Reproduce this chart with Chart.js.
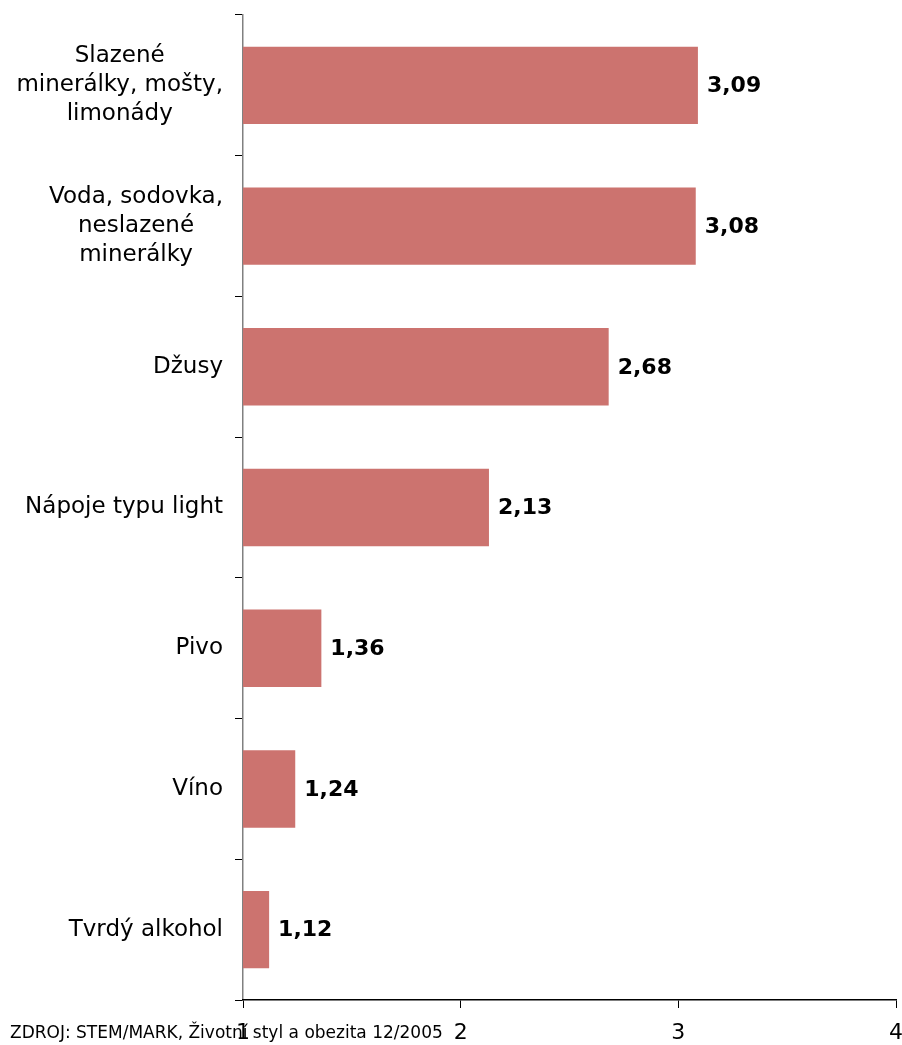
<!DOCTYPE html>
<html>
<head>
<meta charset="utf-8">
<script src="https://cdn.jsdelivr.net/npm/chart.js@4/dist/chart.umd.min.js"></script>
<style>
  html, body { margin: 0; padding: 0; background: #fff; }
  #wrap { position: relative; width: 902px; height: 1045px; overflow: hidden; }
  #source {
    position: absolute; left: 10px; top: 1022px;
    font: 17px "DejaVu Sans", Verdana, sans-serif; color: #000;
    white-space: nowrap;
  }
</style>
</head>
<body>
<div id="wrap">
  <canvas id="chart" width="902" height="1045"></canvas>
  <div id="source">ZDROJ: STEM/MARK, Životní styl a obezita 12/2005</div>
</div>
<script>
// drinks, top to bottom
const categories = [
  ["Slazené", "minerálky, mošty,", "limonády"],
  ["Voda, sodovka,", "neslazené", "minerálky"],
  ["Džusy"],
  ["Nápoje typu light"],
  ["Pivo"],
  ["Víno"],
  ["Tvrdý alkohol"]
];
const values = [3.09, 3.08, 2.68, 2.13, 1.36, 1.24, 1.12];
const xTicks = [1, 2, 3, 4];

const barColor = "#cc736f";
const fontFamily = '"DejaVu Sans", Verdana, sans-serif';

// category names: lines centred on each other, block right-aligned next to the axis
const categoryLabels = {
  id: "categoryLabels",
  afterDraw(chart) {
    const ctx = chart.ctx;
    const y = chart.scales.y;
    ctx.save();
    ctx.font = "23px " + fontFamily;
    ctx.fillStyle = "#000";
    ctx.textAlign = "center";
    ctx.textBaseline = "middle";
    const lineH = 29;
    categories.forEach((lines, i) => {
      const cy = y.getPixelForValue(i);
      const w = Math.max(...lines.map(l => ctx.measureText(l).width));
      const cx = y.right - 20 - w / 2;
      const top = cy - (lines.length - 1) * lineH / 2;
      lines.forEach((l, j) => ctx.fillText(l, cx, top + j * lineH));
    });
    ctx.restore();
  }
};

// bold value at the end of each bar
const valueLabels = {
  id: "valueLabels",
  afterDatasetsDraw(chart) {
    const ctx = chart.ctx;
    const meta = chart.getDatasetMeta(0);
    ctx.save();
    ctx.font = "bold 22px " + fontFamily;
    ctx.fillStyle = "#000";
    ctx.textAlign = "left";
    ctx.textBaseline = "middle";
    meta.data.forEach((bar, i) => {
      ctx.fillText(values[i].toFixed(2).replace(".", ","), bar.x + 9, bar.y + 1);
    });
    ctx.restore();
  }
};

new Chart(document.getElementById("chart"), {
  type: "bar",
  data: {
    labels: categories.map(c => c.join(" ")),
    datasets: [{
      data: values,
      backgroundColor: barColor,
      borderWidth: 0,
      barPercentage: 0.55,
      categoryPercentage: 1
    }]
  },
  options: {
    indexAxis: "y",
    responsive: false,
    animation: false,
    layout: { padding: { top: 15, left: 0, right: 6, bottom: 0 } },
    plugins: { legend: { display: false }, tooltip: { enabled: false } },
    scales: {
      y: {
        offset: true,
        afterFit(scale) { scale.width = 243; },
        border: { display: true, color: "#808080", width: 1.5 },
        grid: {
          offset: true,
          drawOnChartArea: false,
          drawTicks: true,
          tickLength: 8,
          color: "#000"
        },
        ticks: { display: false }
      },
      x: {
        min: 1,
        max: 4,
        afterFit(scale) {
          scale.height = 45;
          scale.paddingRight = 0;
        },
        afterBuildTicks(scale) { scale.ticks = xTicks.map(v => ({ value: v })); },
        border: { display: true, color: "#000", width: 1.5 },
        grid: {
          drawOnChartArea: false,
          drawTicks: true,
          tickLength: 8,
          color: "#000"
        },
        ticks: {
          color: "#000",
          padding: 12,
          font: { family: fontFamily, size: 22 },
          maxRotation: 0
        }
      }
    }
  },
  plugins: [categoryLabels, valueLabels]
});
</script>
</body>
</html>
